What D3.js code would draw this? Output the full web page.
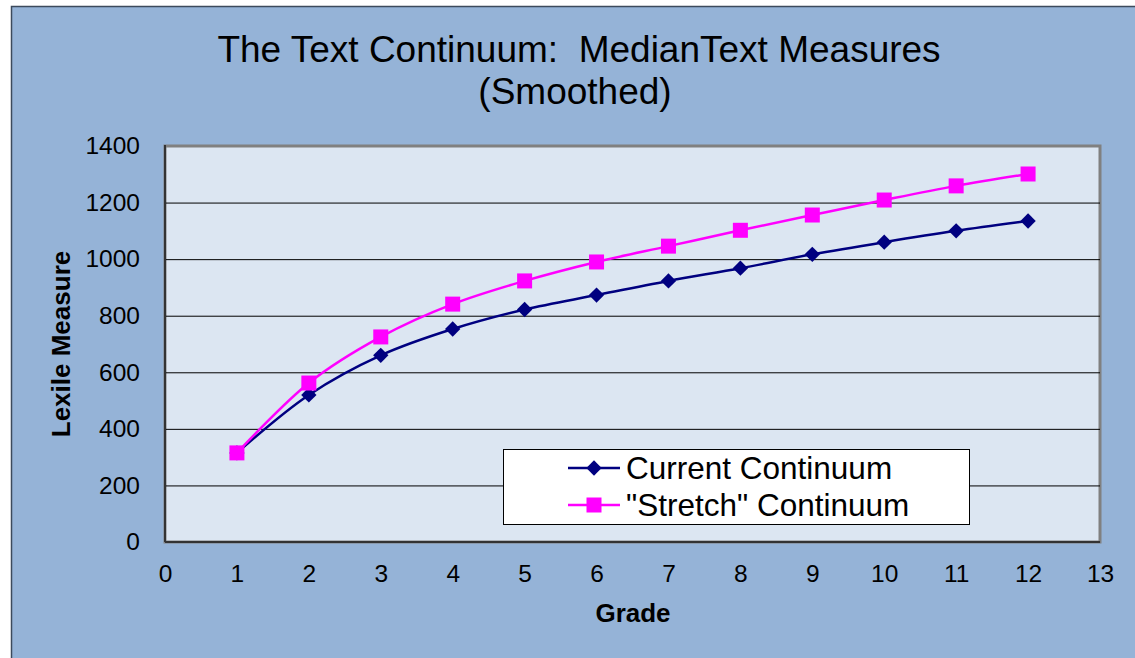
<!doctype html>
<html>
  <head>
    <style>
      body { margin: 0; background: #fff; }
      text { font-family: "Liberation Sans", Arial, sans-serif; }
    </style>
  </head>
  <body>
    <svg width="1135" height="658" id="content"></svg>

    <script src="https://cdnjs.cloudflare.com/ajax/libs/d3/7.8.5/d3.min.js"></script>
    <script>
      // values
      const grades = [1, 2, 3, 4, 5, 6, 7, 8, 9, 10, 11, 12]
      const currentContinuum = [315, 520, 660, 753, 822, 873, 923, 968, 1017, 1060, 1100, 1135]
      const stretchContinuum = [315, 562, 725, 841, 923, 990, 1046, 1102, 1156, 1209, 1259, 1301]
      const xTicks = d3.range(0, 14)
      const yTicks = [0, 200, 400, 600, 800, 1000, 1200, 1400]
      const seriesNames = ['Current Continuum', '"Stretch" Continuum']
      const seriesColors = ['#000080', '#FF00FF']

      const svg = d3.select('#content')

      // outer chart area
      svg.append('rect')
        .attr('x', 11.5).attr('y', 6.5)
        .attr('width', 1135).attr('height', 660)
        .style('fill', '#95B3D7')
        .style('stroke', '#3c4a5c')
        .style('stroke-width', 1.5)

      const plot = { left: 165, top: 146, right: 1100, bottom: 542 }

      const x = d3.scaleLinear().domain([0, 13]).range([plot.left, plot.right])
      const y = d3.scaleLinear().domain([0, 1400]).range([plot.bottom, plot.top])

      // plot background + grey frame
      svg.append('rect')
        .attr('x', plot.left).attr('y', plot.top)
        .attr('width', plot.right - plot.left).attr('height', plot.bottom - plot.top)
        .style('fill', '#DCE6F2')
        .style('stroke', '#808080')
        .style('stroke-width', 3)

      // gridlines
      svg.append('g')
        .selectAll('line')
        .data(yTicks.slice(1, -1))
        .enter().append('line')
        .attr('x1', plot.left).attr('x2', plot.right)
        .attr('y1', d => y(d) + 0.5).attr('y2', d => y(d) + 0.5)
        .style('stroke', '#000')
        .style('stroke-width', 1)

      // left and bottom axis lines
      svg.append('line')
        .attr('x1', plot.left).attr('x2', plot.left)
        .attr('y1', plot.top - 1).attr('y2', plot.bottom)
        .style('stroke', '#333').style('stroke-width', 2)
      svg.append('line')
        .attr('x1', plot.left).attr('x2', plot.right)
        .attr('y1', plot.bottom).attr('y2', plot.bottom)
        .style('stroke', '#333').style('stroke-width', 2)

      // axes (labels only)
      const xAxis = svg.append('g')
        .attr('transform', `translate(0, ${plot.bottom})`)
        .call(d3.axisBottom(x).tickValues(xTicks).tickSize(0).tickPadding(23).tickFormat(d3.format('d')))
      const yAxis = svg.append('g')
        .attr('transform', `translate(${plot.left}, 0)`)
        .call(d3.axisLeft(y).tickValues(yTicks).tickSize(0).tickPadding(25).tickFormat(d3.format('d')))
      ;[xAxis, yAxis].forEach(ax => {
        ax.select('.domain').remove()
        ax.selectAll('text')
          .style('font-family', '"Liberation Sans", Arial, sans-serif')
          .style('font-size', '24.5px')
          .style('fill', '#000')
      })
      xAxis.selectAll('text').attr('dy', '0.71em')

      // series
      const line = d3.line()
        .x((d, i) => x(grades[i]))
        .y(d => y(d))
        .curve(d3.curveCatmullRom.alpha(0.5))

      const diamond = d3.symbol().type(d3.symbolDiamond2).size(150)
      const square = (cx, cy, s) => `M${cx - s},${cy - s}h${2 * s}v${2 * s}h${-2 * s}z`

      svg.append('path')
        .attr('d', line(currentContinuum))
        .style('fill', 'none').style('stroke', seriesColors[0]).style('stroke-width', 2.5)
      svg.append('path')
        .attr('d', line(stretchContinuum))
        .style('fill', 'none').style('stroke', seriesColors[1]).style('stroke-width', 2.5)

      svg.append('g').selectAll('path')
        .data(currentContinuum)
        .enter().append('path')
        .attr('transform', (d, i) => `translate(${x(grades[i])}, ${y(d)})`)
        .attr('d', diamond)
        .style('fill', seriesColors[0])

      svg.append('g').selectAll('path')
        .data(stretchContinuum)
        .enter().append('path')
        .attr('d', (d, i) => square(x(grades[i]), y(d), 7.5))
        .style('fill', seriesColors[1])

      // legend
      const legend = svg.append('g')
      legend.append('rect')
        .attr('x', 503.5).attr('y', 449.5)
        .attr('width', 466).attr('height', 75)
        .style('fill', '#fff').style('stroke', '#000').style('stroke-width', 1)

      seriesNames.forEach((name, i) => {
        const ly = 468 + i * 37
        legend.append('line')
          .attr('x1', 568).attr('x2', 620)
          .attr('y1', ly).attr('y2', ly)
          .style('stroke', seriesColors[i]).style('stroke-width', 2.5)
        if (i === 0) {
          legend.append('path')
            .attr('transform', `translate(594, ${ly})`)
            .attr('d', diamond)
            .style('fill', seriesColors[i])
        } else {
          legend.append('path')
            .attr('d', square(594, ly, 7.5))
            .style('fill', seriesColors[i])
        }
        legend.append('text')
          .attr('x', 626).attr('y', ly)
          .attr('dy', '0.36em')
          .style('font-size', '31.5px')
          .text(name)
      })

      // titles
      svg.append('text')
        .attr('x', 579).attr('y', 62)
        .attr('text-anchor', 'middle')
        .style('font-size', '37px')
        .style('white-space', 'pre')
        .text('The Text Continuum:  MedianText Measures')
      svg.append('text')
        .attr('x', 575).attr('y', 104)
        .attr('text-anchor', 'middle')
        .style('font-size', '37px')
        .text('(Smoothed)')

      svg.append('text')
        .attr('x', 633).attr('y', 622)
        .attr('text-anchor', 'middle')
        .style('font-size', '26px')
        .style('font-weight', 'bold')
        .text('Grade')

      svg.append('text')
        .attr('transform', 'translate(70, 344) rotate(-90)')
        .attr('text-anchor', 'middle')
        .style('font-size', '26px')
        .style('font-weight', 'bold')
        .text('Lexile Measure')
    </script>
  </body>
</html>
